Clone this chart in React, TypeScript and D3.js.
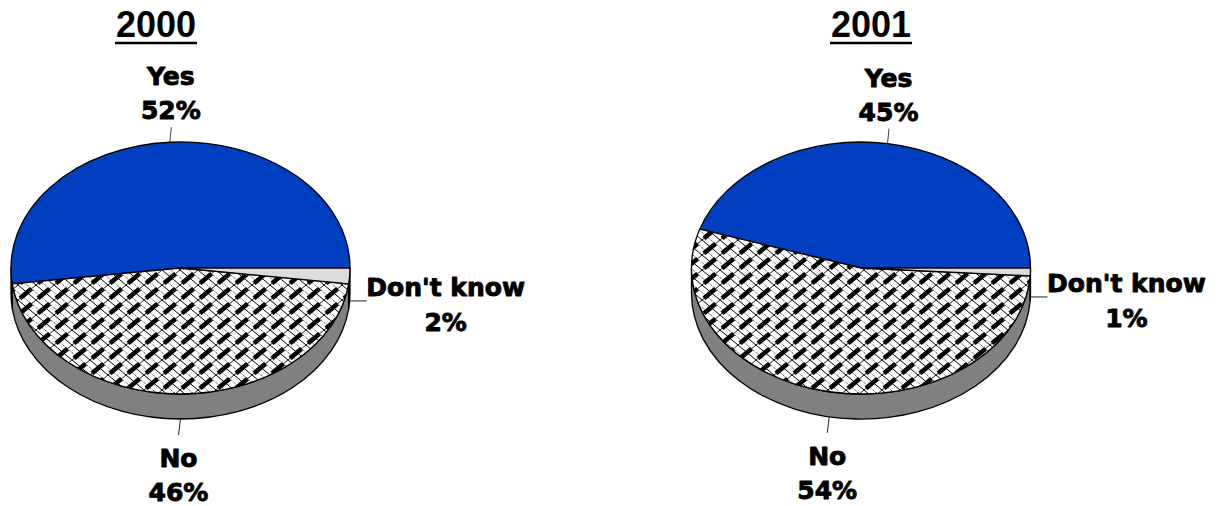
import React from "react";
import * as d3 from "d3";

// ---- data ----
const categories = ["Yes", "No", "Don't know"];
const years = ["2000", "2001"];
const values2000 = [52, 46, 2];
const values2001 = [45, 54, 1];

// ---- layout / style ----
const W = 1220;
const H = 506;
const CY = 268;
const RX = 169.5;
const RY = 126;
const DEPTH = 25;
const FILLS = ["#0040C0", "url(#weave)", "#DCDCDC"];
const SIDE = "#808080";
const LABEL_FONT = "'DejaVu Sans', Verdana, sans-serif";
const TITLE_FONT = "'Liberation Sans', Arial, sans-serif";

const charts = [
  { title: years[0], values: values2000, cx: 180.5, titleX: 156 },
  { title: years[1], values: values2001, cx: 861, titleX: 871 },
];

const pie = d3
  .pie<number>()
  .sort(null)
  .value((d) => d)
  .startAngle(Math.PI / 2)
  .endAngle(Math.PI / 2 - 2 * Math.PI);

function Pie3D({ title, values, cx, titleX }: { title: string; values: number[]; cx: number; titleX: number }) {
  const arcs = pie(values);
  const pt = (a: number, dy = 0): [number, number] => [cx + RX * Math.sin(a), CY - RY * Math.cos(a) + dy];
  const f = (p: [number, number]) => `${p[0].toFixed(2)},${p[1].toFixed(2)}`;

  const tops = arcs.map((a, i) => {
    const s = a.startAngle;
    const e = a.endAngle;
    const large = Math.abs(s - e) > Math.PI ? 1 : 0;
    const d = `M${cx},${CY}L${f(pt(s))}A${RX},${RY} 0 ${large} 0 ${f(pt(e))}Z`;
    return <path key={"t" + i} d={d} fill={FILLS[i]} stroke="#000" strokeWidth={1.3} strokeLinejoin="round" />;
  });

  const sides = arcs.map((a, i) => {
    const lo = Math.max(Math.min(a.startAngle, a.endAngle), -1.5 * Math.PI);
    const hi = Math.min(Math.max(a.startAngle, a.endAngle), -0.5 * Math.PI);
    if (lo >= hi) return null;
    const d =
      `M${f(pt(hi))}A${RX},${RY} 0 0 0 ${f(pt(lo))}` +
      `L${f(pt(lo, DEPTH))}A${RX},${RY} 0 0 1 ${f(pt(hi, DEPTH))}Z`;
    return <path key={"s" + i} d={d} fill={SIDE} stroke="#000" strokeWidth={1.3} strokeLinejoin="round" />;
  });

  const labels = arcs.map((a, i) => {
    const mid = (a.startAngle + a.endAngle) / 2;
    const c = Math.cos(mid);
    const pct = `${values[i]}%`;
    const txt = (x: number, y1: number, y2: number) => (
      <g
        fontFamily={LABEL_FONT}
        fontWeight="bold"
        fontSize={25}
        textAnchor="middle"
        fill="#000"
        stroke="#000"
        strokeWidth={0.9}
        strokeLinejoin="round"
      >
        <text x={x} y={y1}>{categories[i]}</text>
        <text x={x} y={y2}>{pct}</text>
      </g>
    );
    if (c > 0.5) {
      const [ax, ay] = pt(mid);
      return (
        <g key={"l" + i}>
          <line x1={ax} y1={ay} x2={ax + 1.5} y2={ay - 15} stroke="#444" strokeWidth={1} />
          {txt(ax + 1, ay - 57, ay - 23)}
        </g>
      );
    } else if (c < -0.5) {
      const [ax, ay] = pt(mid, DEPTH);
      return (
        <g key={"l" + i}>
          <line x1={ax} y1={ay} x2={ax - 2} y2={ay + 16} stroke="#222" strokeWidth={1} />
          {txt(ax - 2, ay + 48, ay + 82)}
        </g>
      );
    } else {
      const [ax, ay] = pt(mid, DEPTH);
      return (
        <g key={"l" + i}>
          <line x1={ax} y1={ay} x2={ax + 17} y2={ay} stroke="#222" strokeWidth={1} />
          {txt(ax + 96, ay - 5, ay + 30)}
        </g>
      );
    }
  });

  return (
    <g>
      <text x={titleX} y={37} fontFamily={TITLE_FONT} fontWeight="bold" fontSize={36} textAnchor="middle" fill="#000">
        {title}
      </text>
      <line x1={titleX - 41} x2={titleX + 41} y1={43} y2={43} stroke="#000" strokeWidth={2.6} />
      {sides}
      {tops}
      {labels}
    </g>
  );
}

export default function App() {
  return (
    <svg
      width={W}
      height={H}
      viewBox={`0 0 ${W} ${H}`}
      style={{ position: "absolute", left: 0, top: 0, display: "block", background: "#fff" }}
    >
      <defs>
        <pattern id="weave" patternUnits="userSpaceOnUse" width={18} height={15}>
          <rect width={18} height={15} fill="#fff" />
          <line x1={0} y1={0} x2={18} y2={15} stroke="#000" strokeWidth={1} />
          <line x1={9} y1={0} x2={18} y2={7.5} stroke="#000" strokeWidth={0.8} strokeDasharray="1,1" />
          <line x1={0} y1={7.5} x2={9} y2={15} stroke="#000" strokeWidth={0.8} strokeDasharray="1,1" />
          <line x1={0} y1={15} x2={18} y2={0} stroke="#000" strokeWidth={0.9} />
          <line x1={2} y1={13.3} x2={13.5} y2={3.8} stroke="#000" strokeWidth={4.6} strokeLinecap="butt" />
        </pattern>
      </defs>
      <rect width={W} height={H} fill="#fff" />
      {charts.map((c) => (
        <Pie3D key={c.title} {...c} />
      ))}
    </svg>
  );
}
